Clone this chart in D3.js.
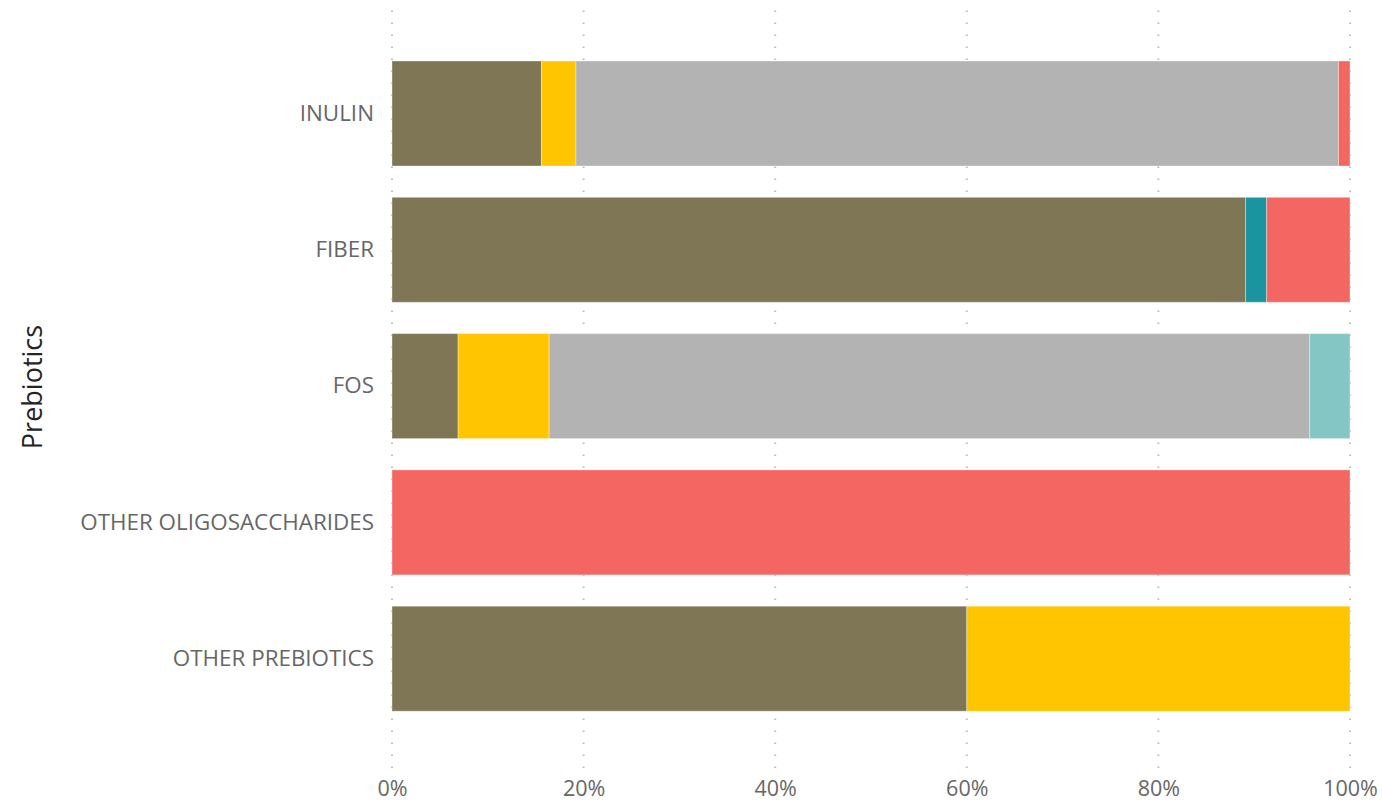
<!DOCTYPE html>
<html><head><meta charset="utf-8">
<script src="https://cdn.jsdelivr.net/npm/d3@7"></script>
<style>body{margin:0;background:#fff;} svg{display:block;}</style>
</head><body>
<svg id="chart" width="1382" height="802"></svg>
<script>
const categories = ["INULIN", "FIBER", "FOS", "OTHER OLIGOSACCHARIDES", "OTHER PREBIOTICS"];
const seriesNames = ["s1", "s2", "s3", "s4", "s5", "s6"];
const seriesColors = ["#7F7656", "#FFC600", "#B3B3B3", "#1A95A0", "#84C6C3", "#F36662"];
const s1 = [15.6, 89.1, 6.9, 0, 60];
const s2 = [3.6, 0, 9.5, 0, 40];
const s3 = [79.6, 0, 79.4, 0, 0];
const s4 = [0, 2.2, 0, 0, 0];
const s5 = [0, 0, 4.2, 0, 0];
const s6 = [1.2, 8.7, 0, 100, 0];
const tickValues = [0, 20, 40, 60, 80, 100];
const axisTitle = "Prebiotics";

const seriesVals = [s1, s2, s3, s4, s5, s6];
const rows = categories.map((c, i) => {
  const r = {cat: c};
  seriesNames.forEach((s, j) => r[s] = seriesVals[j][i]);
  return r;
});

const svg = d3.select("#chart");
const x = d3.scaleLinear().domain([0, 100]).range([392, 1350]);
const y = d3.scaleBand().domain(categories).range([45.35, 726.85]).paddingInner(0.2296).paddingOuter(0.1148);

// gridlines
svg.append("g").selectAll("line").data(tickValues).join("line")
  .attr("x1", d => x(d)).attr("x2", d => x(d))
  .attr("y1", 10.5).attr("y2", 771)
  .attr("stroke", "#BDBDBD").attr("stroke-width", 2)
  .attr("stroke-dasharray", "1.5,10.5");

const stack = d3.stack().keys(seriesNames)(rows);
const color = d3.scaleOrdinal().domain(seriesNames).range(seriesColors);

svg.append("g").selectAll("g").data(stack).join("g")
  .attr("fill", d => color(d.key))
  .selectAll("rect").data(d => d.filter(p => p[1] - p[0] > 0)).join("rect")
  .attr("x", d => x(d[0]))
  .attr("width", d => x(d[1]) - x(d[0]))
  .attr("y", d => y(d.data.cat))
  .attr("height", y.bandwidth())
  .attr("stroke", "#fff").attr("stroke-opacity", 0.35).attr("stroke-width", 1);

// x axis labels
const xAxis = d3.axisBottom(x).tickValues(tickValues).tickFormat(d => d + "%").tickSize(0);
const gx = svg.append("g").attr("transform", "translate(0,778)").call(xAxis);
gx.select(".domain").remove();
gx.selectAll("text").attr("font-family", "'Open Sans', sans-serif").attr("font-size", 21.5)
  .attr("fill", "#666").attr("dy", "0.71em").attr("y", 3);

// y axis labels
const yAxis = d3.axisLeft(y).tickSize(0).tickPadding(0);
const gy = svg.append("g").attr("transform", "translate(374,0)").call(yAxis);
gy.select(".domain").remove();
gy.selectAll("text").attr("font-family", "'Open Sans', sans-serif").attr("font-size", 22.4)
  .attr("fill", "#666");

svg.append("text").attr("transform", "translate(42,387) rotate(-90)")
  .attr("text-anchor", "middle").attr("font-family", "'Open Sans', sans-serif")
  .attr("font-size", 27).attr("fill", "#252423").text(axisTitle);
</script>
</body></html>
